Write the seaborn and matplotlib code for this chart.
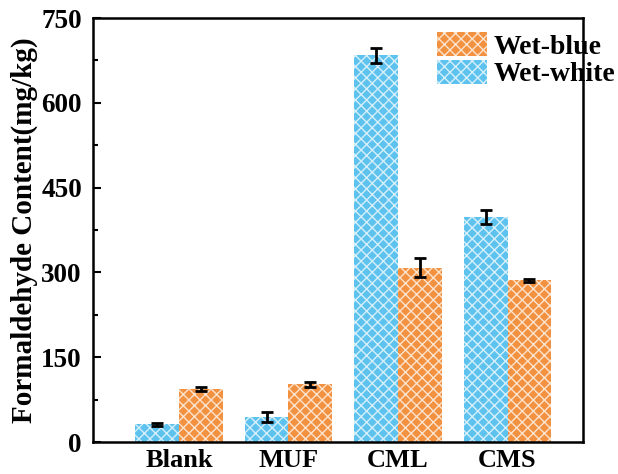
import numpy as np
import pandas as pd
import seaborn as sns
import matplotlib.pyplot as plt
from matplotlib.patches import Patch

# data
samples = ["Blank", "MUF", "CML", "CMS"]
wet_white = [31, 44, 684, 398]
wet_white_err = [2, 9, 13, 12]
wet_blue = [94, 102, 308, 286]
wet_blue_err = [4, 5, 17, 3]

blue = "#5DC2EE"
orange = "#F2913F"
hatch_col = (1, 1, 1, 0.75)

df = pd.DataFrame({
    "sample": samples * 2,
    "value": wet_white + wet_blue,
    "type": ["Wet-white"] * 4 + ["Wet-blue"] * 4,
})

sns.set_style("ticks", {"axes.edgecolor": "black", "text.color": "black",
                        "xtick.color": "black", "ytick.color": "black",
                        "axes.labelcolor": "black"})
plt.rcParams["font.family"] = ["Liberation Serif", "DejaVu Serif"]
plt.rcParams["font.weight"] = "bold"
plt.rcParams["hatch.linewidth"] = 1.0

fig = plt.figure(figsize=(6.18, 4.74), dpi=100)
ax = fig.add_axes([0.1505, 0.0675, 0.793, 0.8945])

sns.barplot(data=df, x="sample", y="value", hue="type",
            hue_order=["Wet-white", "Wet-blue"], order=samples,
            palette=[blue, orange], errorbar=None, width=0.8,
            saturation=1, legend=False, ax=ax)

for p in ax.patches:
    p.set_hatch("xxx")
    p.set_edgecolor(hatch_col)
    p.set_linewidth(0)

# error bars at bar centres
bars = ax.patches
xs = [b.get_x() + b.get_width() / 2 for b in bars]
vals = wet_white + wet_blue
errs = wet_white_err + wet_blue_err
ax.errorbar(xs, vals, yerr=errs, fmt="none", ecolor="black",
            elinewidth=2, capsize=4, capthick=2, zorder=5)

ax.set_xlim(-0.785, 3.69)
ax.set_ylim(0, 750)
ax.set_yticks([0, 150, 300, 450, 600, 750])
ax.set_yticks(np.arange(75, 750, 150), minor=True)
ax.tick_params(axis="y", which="major", direction="in", length=6, width=1.5,
               labelsize=19.5, pad=8, colors="black")
ax.tick_params(axis="y", which="minor", direction="in", length=3.5, width=1.5,
               colors="black")
ax.tick_params(axis="x", length=0, labelsize=19, pad=5, colors="black")
for lab in ax.get_xticklabels() + ax.get_yticklabels():
    lab.set_fontweight("bold")
for s in ax.spines.values():
    s.set_linewidth(1.8)
    s.set_color("black")
    s.set_visible(True)

ax.set_xlabel("")
ax.set_ylabel("Formaldehyde Content(mg/kg)", fontsize=21, fontweight="bold",
              labelpad=2, color="black")

handles = [Patch(facecolor=orange, hatch="xxx", edgecolor=hatch_col, linewidth=0),
           Patch(facecolor=blue, hatch="xxx", edgecolor=hatch_col, linewidth=0)]
ax.legend(handles, ["Wet-blue", "Wet-white"], loc="upper left",
          bbox_to_anchor=(0.702, 0.968), frameon=False,
          handlelength=1.8, handleheight=1.0, labelspacing=0,
          handletextpad=0.25, borderaxespad=0, borderpad=0,
          prop={"weight": "bold", "size": 20})

plt.savefig("out.png", dpi=100)
